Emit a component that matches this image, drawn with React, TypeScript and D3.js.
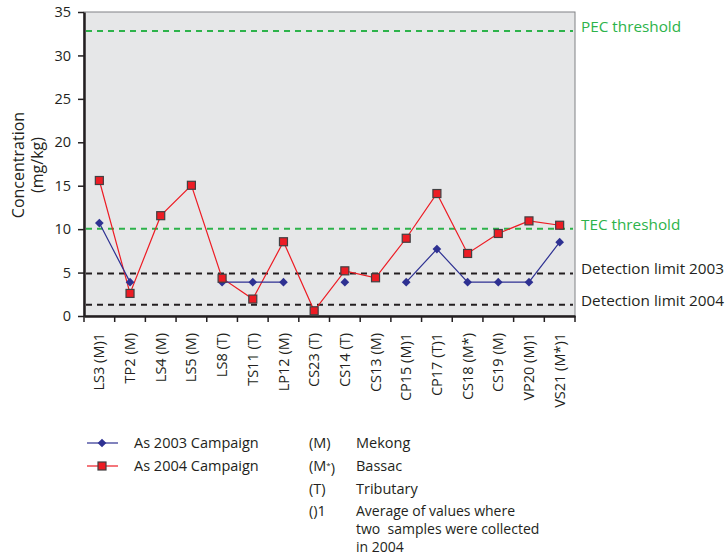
import { useEffect, useRef } from 'react';
import * as d3 from 'd3';

const sites = ['LS3 (M)1', 'TP2 (M)', 'LS4 (M)', 'LS5 (M)', 'LS8 (T)', 'TS11 (T)', 'LP12 (M)', 'CS23 (T)',
  'CS14 (T)', 'CS13 (M)', 'CP15 (M)1', 'CP17 (T)1', 'CS18 (M*)', 'CS19 (M)', 'VP20 (M)1', 'VS21 (M*)1'];
const as2003: (number | null)[] = [10.7, 3.9, null, null, 3.9, 3.9, 3.9, null, 3.9, null, 3.9, 7.7, 3.9, 3.9, 3.9, 8.5];
const as2004 = [15.6, 2.6, 11.55, 15.05, 4.35, 1.95, 8.55, 0.6, 5.2, 4.4, 8.95, 14.1, 7.2, 9.5, 10.95, 10.45];
const yTicks = [0, 5, 10, 15, 20, 25, 30, 35];
const refLines = [
  { label: 'PEC threshold', value: 32.8, color: '#2db34a' },
  { label: 'TEC threshold', value: 10.05, color: '#2db34a' },
  { label: 'Detection limit 2003', value: 4.9, color: '#231f20' },
  { label: 'Detection limit 2004', value: 1.3, color: '#231f20' },
];
const seriesNames = ['As 2003 Campaign', 'As 2004 Campaign'];
const noteKeys = ['(M)', '(M*)', '(T)', '()1'];
const noteTexts = [
  ['Mekong'],
  ['Bassac'],
  ['Tributary'],
  ['Average of values where', 'two  samples were collected', 'in 2004'],
];

const BLUE = '#2e3192';
const RED = '#ed1c24';
const FONT = "'Open Sans', 'Noto Sans', sans-serif";
const INK = '#231f20';

export default function App() {
  const svgRef = useRef<SVGSVGElement>(null);

  useEffect(() => {
    const svg = d3.select(svgRef.current);
    svg.selectAll('*').remove();
    const left = 84, right = 575, top = 12, bottom = 316;

    const x = d3.scaleBand<string>().domain(sites).range([left, right]);
    const y = d3.scaleLinear().domain([0, 35]).range([bottom, top]);
    const cx = (i: number) => x(sites[i])! + x.bandwidth() / 2;

    svg.append('rect').attr('x', left).attr('y', top).attr('width', right - left).attr('height', bottom - top)
      .attr('fill', '#e6e7e8').attr('stroke', '#808285').attr('stroke-width', 1);

    // reference lines
    refLines.forEach(r => {
      svg.append('line').attr('x1', left + 2).attr('x2', right - 2).attr('y1', y(r.value)).attr('y2', y(r.value))
        .attr('stroke', r.color).attr('stroke-width', 2).attr('stroke-dasharray', '6,5');
      svg.append('text').attr('x', right + 6).attr('y', y(r.value) - 4).attr('dy', '0.32em')
        .attr('fill', r.color).style('font-family', FONT).style('font-size', '15.3px').text(r.label);
    });

    // axes
    const yAxis = svg.append('g').attr('transform', `translate(${left},0)`)
      .call(d3.axisLeft(y).tickValues(yTicks).tickSize(6).tickSizeOuter(0));
    yAxis.select('.domain').attr('stroke', INK).attr('stroke-width', 2.5);
    yAxis.selectAll('line').attr('stroke', INK).attr('stroke-width', 1.5);
    yAxis.selectAll('text').attr('x', -13).style('font-family', FONT).style('font-size', '14.5px').attr('fill', INK);

    const xAxis = svg.append('g').attr('transform', `translate(0,${bottom})`)
      .call(d3.axisBottom(x).tickSize(0).tickSizeOuter(0));
    xAxis.select('.domain').attr('stroke', INK).attr('stroke-width', 2.5);
    xAxis.selectAll('text')
      .attr('transform', 'rotate(-90)').attr('x', -17).attr('y', 0).attr('dy', '0.35em')
      .style('text-anchor', 'end').style('font-family', FONT).style('font-size', '14.5px').attr('fill', INK);
    xAxis.selectAll('.tick line').remove();
    const bounds = sites.map(s => x(s)!).concat([right]);
    svg.append('g').selectAll('line').data(bounds).enter().append('line')
      .attr('x1', d => d).attr('x2', d => d).attr('y1', bottom).attr('y2', bottom + 6)
      .attr('stroke', INK).attr('stroke-width', 1.5);

    // y title
    svg.append('text').attr('transform', `translate(24,165) rotate(-90)`)
      .style('text-anchor', 'middle').style('font-family', FONT).style('font-size', '16px').attr('fill', INK)
      .text('Concentration');
    svg.append('text').attr('transform', `translate(43,165) rotate(-90)`)
      .style('text-anchor', 'middle').style('font-family', FONT).style('font-size', '16px').attr('fill', INK)
      .text('(mg/kg)');

    // lines
    const line = d3.line<number | null>().defined(d => d != null).x((_, i) => cx(i)).y(d => y(d as number));
    svg.append('path').datum(as2004 as (number | null)[]).attr('d', line).attr('fill', 'none')
      .attr('stroke', RED).attr('stroke-width', 1.2);
    svg.append('path').datum(as2003).attr('d', line).attr('fill', 'none')
      .attr('stroke', BLUE).attr('stroke-width', 1.2);

    const diamond = d3.symbol().type(d3.symbolDiamond2).size(48);
    svg.append('g').selectAll('path').data(as2003.map((v, i) => ({ v, i })).filter(d => d.v != null))
      .enter().append('path').attr('d', diamond)
      .attr('transform', d => `translate(${cx(d.i)},${y(d.v as number)})`).attr('fill', BLUE);
    svg.append('g').selectAll('rect').data(as2004).enter().append('rect')
      .attr('x', (_, i) => cx(i) - 4).attr('y', d => y(d) - 4).attr('width', 8).attr('height', 8)
      .attr('fill', RED).attr('stroke', '#414042').attr('stroke-width', 1.2);

    // legend
    const lg = svg.append('g').style('font-family', FONT).style('font-size', '14.5px').attr('fill', INK);
    [0, 1].forEach(k => {
      const ly = 443 + k * 23;
      lg.append('line').attr('x1', 87).attr('x2', 118).attr('y1', ly).attr('y2', ly)
        .attr('stroke', k === 0 ? BLUE : RED).attr('stroke-width', 1.2);
      if (k === 0) {
        lg.append('path').attr('d', diamond).attr('transform', `translate(102,${ly})`).attr('fill', BLUE);
      } else {
        lg.append('rect').attr('x', 98).attr('y', ly - 4).attr('width', 8).attr('height', 8)
          .attr('fill', RED).attr('stroke', '#414042').attr('stroke-width', 1.2);
      }
      lg.append('text').attr('x', 134).attr('y', ly).attr('dy', '0.35em').text(seriesNames[k]);
    });
    const rowY = [443, 466, 489, 511];
    noteKeys.forEach((key, i) => {
      const t = lg.append('text').attr('x', 309).attr('y', rowY[i]).attr('dy', '0.35em');
      if (key === '(M*)') {
        t.append('tspan').text('(M');
        t.append('tspan').attr('dy', '-0.35em').style('font-size', '8px').text('*');
        t.append('tspan').attr('dy', '0.35em').text(')');
      } else {
        t.text(key);
      }
      const d = lg.append('text').attr('x', 356).attr('y', rowY[i]).attr('dy', '0.35em')
        .attr('xml:space', 'preserve').style('font-size', i === 3 ? '14px' : null);
      noteTexts[i].forEach((s, j) => {
        d.append('tspan').attr('x', 356).attr('dy', j === 0 ? '0.35em' : '18px').text(s);
      });
    });
  }, []);

  return <svg ref={svgRef} width={726} height={556} style={{ position: 'absolute', left: 0, top: 0 }} />;
}
